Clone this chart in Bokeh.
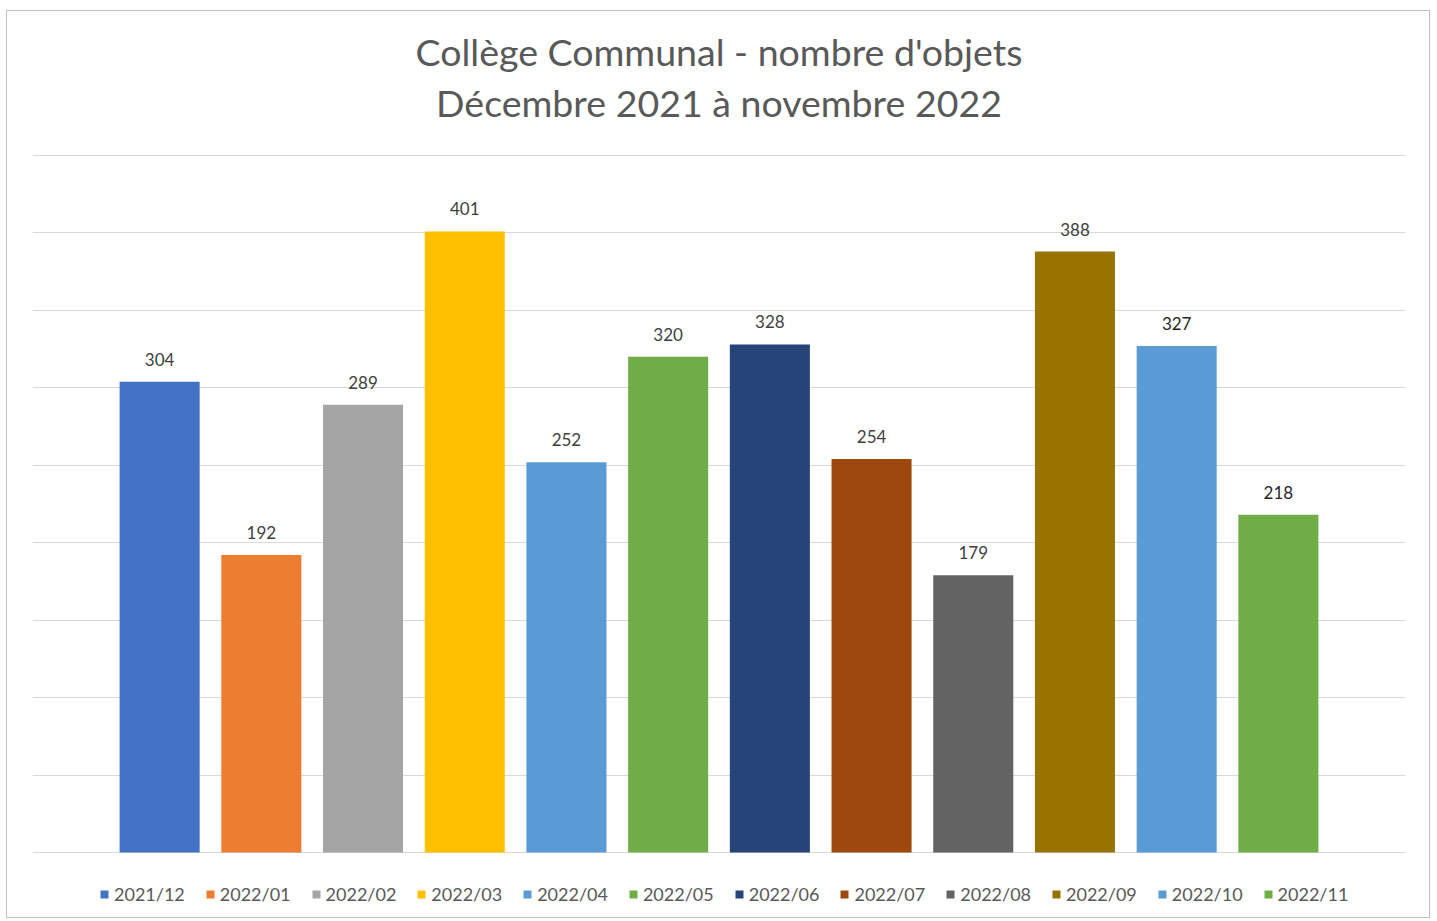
from bokeh.plotting import figure
from bokeh.models import Range1d, FixedTicker, Legend, LegendItem, ColumnDataSource, Label
from bokeh.embed import file_html
from bokeh.resources import INLINE
from bokeh.core.properties import value

# ---- data ----
months = ["2021/12", "2022/01", "2022/02", "2022/03", "2022/04", "2022/05",
          "2022/06", "2022/07", "2022/08", "2022/09", "2022/10", "2022/11"]
counts = [304, 192, 289, 401, 252, 320, 328, 254, 179, 388, 327, 218]
colors = ["#4472C4", "#ED7D31", "#A5A5A5", "#FFC000", "#5B9BD5", "#70AD47",
          "#264478", "#9E480E", "#636363", "#997300", "#5B9BD5", "#70AD47"]
label_colors = ["#404040"] * 10 + ["#262626", "#262626"]
y_ticks = [0, 50, 100, 150, 200, 250, 300, 350, 400, 450]
title_line1 = "Collège Communal - nombre d'objets"
title_line2 = "Décembre 2021 à novembre 2022"

FONT = "Lato"

src = ColumnDataSource(dict(
    x=list(range(len(months))),
    top=counts,
    color=colors,
    label=[str(c) for c in counts],
    lcolor=label_colors,
    month=months,
))

W, H = 1424, 908
FL, FW = 25, 1373                   # frame left, width (px)
TOP450 = 144                        # pixel row of value 450
BASE = 841                          # pixel row of value 0
px_per_unit = (BASE - TOP450) / 450.0
y_low = -(H - BASE) / px_per_unit
y_high = 450 + TOP450 / px_per_unit

p = figure(width=W, height=H, output_backend="svg", toolbar_location=None,
           x_range=Range1d(-1.25, 12.25), y_range=Range1d(y_low, y_high),
           min_border_left=FL, min_border_right=W - FL - FW,
           min_border_top=0, min_border_bottom=0)
p.styles = {"border": "1px solid #bfbfbf", "margin-left": "6px", "margin-top": "10px"}
p.outline_line_color = None
p.background_fill_color = "white"
p.border_fill_color = "white"

for txt, base in ((title_line1, 40), (title_line2, 91)):
    p.add_layout(Label(x=FW / 2, y=H - base, x_units="screen", y_units="screen",
                       text=txt, text_align="center", text_baseline="alphabetic",
                       text_font=FONT, text_font_size="37.5px", text_color="#595959"))

p.xaxis.visible = False
p.yaxis.visible = False
p.xgrid.visible = False
p.yaxis.ticker = FixedTicker(ticks=y_ticks)
p.ygrid.ticker = FixedTicker(ticks=y_ticks)
p.ygrid.grid_line_color = "#d9d9d9"
p.ygrid.grid_line_width = 1

bars = p.vbar(x="x", top="top", width=0.787, bottom=0, source=src,
              fill_color="color", line_color=None)

p.text(x="x", y="top", text="label", source=src, text_align="center",
       text_baseline="bottom", y_offset=-16, text_font=value(FONT),
       text_font_size="17px", text_color="lcolor")

items = [LegendItem(label=m, renderers=[bars], index=i) for i, m in enumerate(months)]
legend = Legend(items=items, orientation="horizontal", location=(67, 14),
                glyph_width=10, glyph_height=10, label_standoff=5, spacing=20,
                label_text_font=FONT, label_text_font_size="18px",
                label_text_color="#595959", border_line_color=None,
                background_fill_alpha=0, padding=0, margin=0)
p.add_layout(legend, "center")

open("out.html", "w").write(file_html(p, INLINE))
